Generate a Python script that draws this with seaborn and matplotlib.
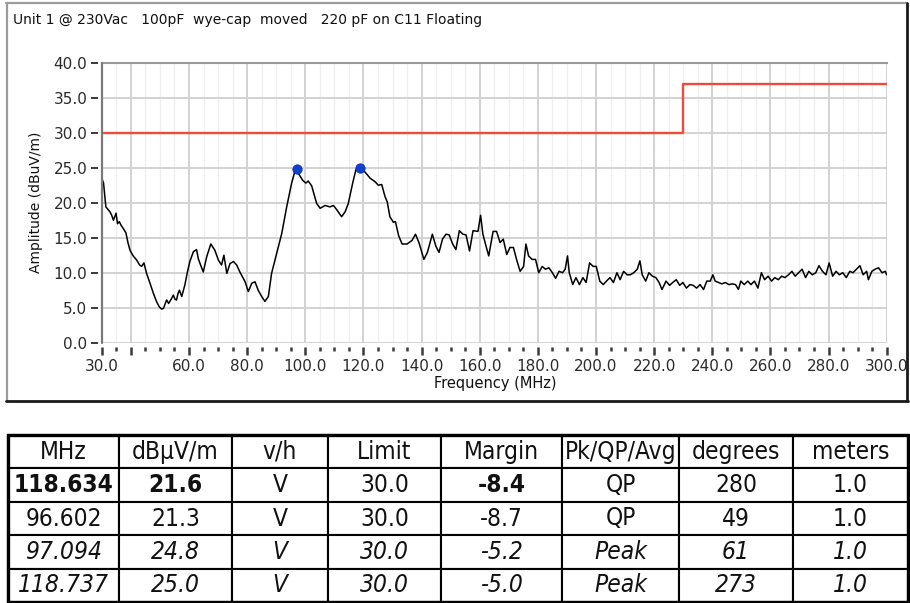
import matplotlib
matplotlib.use("Agg")
import matplotlib.pyplot as plt
from matplotlib import font_manager as fm
from matplotlib.font_manager import FontProperties
from matplotlib.lines import Line2D
from matplotlib.patches import Rectangle
from matplotlib.textpath import TextToPath
from matplotlib.ticker import MultipleLocator
import pandas as pd
import seaborn as sns

# ---------------------------------------------------------------- data
title_text = "Unit 1 @ 230Vac   100pF  wye-cap  moved   220 pF on C11 Floating"

# measured emission trace (MHz, dBuV/m)
freq_mhz = [
    30.0, 30.6, 31.4, 32.2, 32.8, 33.4, 34.0, 34.9, 35.4, 36.0,
    36.6, 37.4, 38.3, 39.0, 39.7, 40.8, 42.0, 43.0, 43.7, 44.5,
    45.4, 46.5, 47.7, 48.8, 49.8, 50.6, 51.2, 52.3, 53.0, 53.4,
    54.0, 54.6, 55.2, 55.7, 56.2, 56.7, 57.5, 58.6, 59.5, 60.3,
    61.5, 62.6, 63.2, 63.8, 64.9, 66.1, 67.5, 68.9, 70.1, 71.2,
    72.0, 73.0, 74.1, 75.3, 76.4, 77.5, 79.3, 80.4, 81.6, 82.7,
    83.8, 85.0, 86.1, 87.3, 88.4, 90.2, 91.9, 93.6, 95.3, 96.5,
    97.1, 97.6, 99.1, 100.2, 101.0, 102.2, 103.9, 105.1, 106.8, 108.5,
    109.7, 110.8, 112.5, 113.7, 114.8, 116.3, 117.4, 118.7, 120.5, 122.3,
    124.0, 125.1, 126.3, 127.4, 128.2, 129.1, 130.3, 131.0, 132.1, 133.3,
    135.0, 136.7, 137.9, 139.1, 140.8, 142.0, 143.7, 144.9, 146.0, 147.2,
    148.4, 149.5, 150.7, 151.8, 153.0, 154.2, 155.3, 156.5, 157.7, 159.4,
    160.3, 161.1, 162.3, 163.1, 164.6, 165.8, 167.0, 168.1, 169.3, 170.4,
    171.6, 172.8, 173.9, 175.1, 175.9, 176.8, 178.0, 179.2, 180.3, 181.5,
    182.6, 183.8, 185.0, 186.1, 187.3, 188.5, 189.4, 190.2, 190.8, 192.0,
    193.1, 194.3, 195.5, 196.6, 197.8, 199.0, 200.1, 201.3, 202.5, 203.6,
    204.8, 206.0, 207.2, 208.3, 209.5, 210.7, 211.8, 213.0, 214.2, 215.1,
    215.9, 217.1, 218.2, 219.4, 220.6, 221.7, 222.7, 224.1, 225.3, 226.4,
    227.6, 228.8, 229.9, 231.1, 232.3, 233.4, 234.6, 235.8, 237.0, 238.1,
    239.3, 240.2, 241.0, 242.2, 243.3, 244.5, 245.7, 246.9, 248.0, 249.0,
    249.8, 251.0, 252.2, 253.3, 254.5, 255.7, 256.9, 258.0, 259.2, 260.4,
    261.5, 262.7, 263.9, 265.0, 266.2, 267.4, 268.5, 269.7, 270.9, 272.1,
    273.2, 274.4, 275.6, 276.7, 277.9, 279.1, 280.2, 281.4, 282.6, 283.7,
    284.9, 286.1, 287.3, 288.4, 289.6, 290.8, 291.9, 293.1, 293.7, 294.9,
    296.0, 297.2, 298.4, 299.5, 300.0,
]
level_dbuv = [
    23.5, 22.8, 19.4, 19.0, 18.7, 18.2, 17.5, 18.5, 17.0, 17.3,
    16.8, 16.3, 15.7, 14.3, 13.2, 12.4, 11.8, 11.1, 10.9, 11.4,
    9.9, 8.6, 7.1, 5.9, 5.1, 4.8, 4.9, 6.1, 5.6, 5.9,
    6.3, 6.8, 6.2, 6.1, 7.0, 7.5, 6.6, 8.3, 10.2, 11.6,
    13.0, 13.3, 12.0, 11.3, 10.1, 12.3, 14.1, 13.2, 11.8, 11.1,
    12.5, 9.9, 11.3, 11.6, 11.1, 10.1, 8.7, 7.3, 8.5, 8.7,
    7.5, 6.6, 5.9, 6.6, 9.9, 12.8, 15.6, 19.4, 22.8, 24.6,
    24.8, 24.2, 23.2, 22.8, 23.1, 22.4, 19.9, 19.2, 19.6, 19.4,
    19.6, 19.0, 18.0, 18.7, 19.9, 22.8, 24.7, 25.0, 24.4, 23.5,
    23.0, 22.5, 22.6, 20.9, 20.1, 18.0, 17.2, 17.3, 15.3, 14.1,
    14.1, 14.6, 15.5, 14.3, 11.9, 12.9, 15.5, 13.8, 12.9, 14.8,
    15.5, 15.4, 14.1, 13.3, 16.0, 15.5, 15.4, 13.1, 16.0, 15.9,
    18.2, 15.5, 13.6, 12.4, 15.9, 15.9, 14.3, 14.8, 12.6, 13.6,
    13.6, 11.7, 10.2, 10.9, 14.1, 12.4, 11.9, 11.9, 10.0, 10.9,
    10.5, 10.7, 10.0, 9.2, 10.2, 10.0, 10.5, 12.4, 10.0, 8.3,
    9.3, 8.3, 9.3, 8.6, 11.4, 10.9, 10.9, 8.8, 8.3, 8.8,
    9.3, 8.6, 10.0, 9.0, 10.2, 9.7, 9.7, 10.0, 10.5, 11.7,
    9.7, 8.8, 10.0, 9.5, 9.3, 8.6, 7.6, 8.8, 8.2, 8.6,
    9.0, 8.2, 8.6, 7.8, 8.3, 8.2, 7.8, 8.3, 7.6, 8.8,
    8.8, 9.7, 8.8, 8.6, 8.4, 8.6, 8.3, 8.4, 8.3, 7.6,
    8.8, 8.3, 8.8, 8.3, 8.8, 7.8, 10.0, 9.0, 9.5, 8.8,
    9.3, 9.0, 9.5, 9.3, 9.7, 10.2, 9.5, 10.0, 10.5, 9.3,
    10.2, 9.7, 10.0, 11.0, 10.2, 9.7, 11.4, 9.5, 10.2, 9.7,
    10.0, 9.3, 10.2, 10.0, 10.5, 11.0, 9.7, 10.2, 9.0, 10.2,
    10.5, 10.7, 10.0, 10.2, 9.7,
]

# class limit (step at 230 MHz)
limit_freq = [30.0, 230.0, 300.0]
limit_level = [30.0, 37.0, 37.0]

# axis ticks
x_tick_values = [30, 40, 60, 80, 100, 120, 140, 160, 180, 200, 220, 240, 260, 280, 300]
x_tick_labels = ["30.0", "", "60.0", "80.0", "100.0", "120.0", "140.0", "160.0",
                 "180.0", "200.0", "220.0", "240.0", "260.0", "280.0", "300.0"]
y_tick_values = [0, 5, 10, 15, 20, 25, 30, 35, 40]
y_tick_labels = ["0.0", "5.0", "10.0", "15.0", "20.0", "25.0", "30.0", "35.0", "40.0"]

# final measurement table
table_header = ["MHz", "dB\u03bcV/m", "v/h", "Limit", "Margin", "Pk/QP/Avg", "degrees", "meters"]
meas_freq = [118.634, 96.602, 97.094, 118.737]
meas_level = [21.6, 21.3, 24.8, 25.0]
meas_pol = ["V", "V", "V", "V"]
meas_limit = [30.0, 30.0, 30.0, 30.0]
meas_margin = [-8.4, -8.7, -5.2, -5.0]
meas_detector = ["QP", "QP", "Peak", "Peak"]
meas_azimuth = [280, 49, 61, 273]
meas_height = [1.0, 1.0, 1.0, 1.0]

# ---------------------------------------------------------------- figure
sns.set_theme(style="white")
plt.rcParams["font.family"] = ["DejaVu Sans"]

W, H = 910, 603
fig = plt.figure(figsize=(W / 100, H / 100), dpi=100)
fig.patch.set_facecolor("white")


def fx(px):
    return px / W


def fy(py):
    return 1 - py / H


# chart panel frame
fig.add_artist(Line2D([fx(6), fx(907)], [fy(2.5), fy(2.5)], color="#9c9c9c", lw=1.6))
fig.add_artist(Line2D([fx(6.5), fx(6.5)], [fy(2.5), fy(401)], color="#9c9c9c", lw=1.6))
fig.add_artist(Line2D([fx(6), fx(908)], [fy(401), fy(401)], color="#1a1a1a", lw=2.0))
fig.add_artist(Line2D([fx(907), fx(907)], [fy(2.5), fy(401)], color="#1a1a1a", lw=2.0))

fig.text(fx(13), fy(20), title_text, ha="left", va="center", fontsize=10, color="#111111")

# plot area
ax_l, ax_r, ax_t, ax_b = 101.8, 886.7, 62.7, 342.7
ax = fig.add_axes([fx(ax_l), fy(ax_b), (ax_r - ax_l) / W, (ax_b - ax_t) / H])
ax.set_facecolor("white")

spectrum = pd.DataFrame({"freq": freq_mhz, "level": level_dbuv})
limit = pd.DataFrame({"freq": limit_freq, "level": limit_level})
is_peak = [d == "Peak" for d in meas_detector]
peaks = pd.DataFrame({
    "freq": [f for f, p in zip(meas_freq, is_peak) if p],
    "level": [v for v, p in zip(meas_level, is_peak) if p],
})

sns.lineplot(data=limit, x="freq", y="level", ax=ax, color="#f04b3a", lw=1.7,
             drawstyle="steps-post", estimator=None, sort=False, zorder=3)
sns.lineplot(data=spectrum, x="freq", y="level", ax=ax, color="black", lw=1.1,
             estimator=None, sort=False, zorder=4)
sns.scatterplot(data=peaks, x="freq", y="level", ax=ax, color="#1040d0", s=45,
                edgecolor="#0a2fb0", linewidth=0.6, zorder=5)

ax.set_xlim(30, 300)
ax.set_ylim(0, 40)

ax.set_xticks(x_tick_values, labels=x_tick_labels)
ax.xaxis.set_minor_locator(MultipleLocator(5))
ax.set_yticks(y_tick_values, labels=y_tick_labels)

ax.grid(which="major", color="#d2d2d2", lw=1.4, zorder=0)
ax.grid(which="minor", axis="x", color="#efefef", lw=0.9, zorder=0)
ax.set_axisbelow(True)

for side in ("left", "bottom"):
    ax.spines[side].set_position(("outward", 3))
    ax.spines[side].set_visible(False)
ax.spines["right"].set_visible(False)
ax.spines["top"].set_visible(True)
ax.spines["top"].set_color("#9a9a9a")
ax.spines["top"].set_linewidth(1.5)
ax.axvline(30, color="#7a7a7a", lw=1.6, zorder=6, clip_on=False)

ax.tick_params(axis="y", which="major", left=True, length=5, width=1.4,
               color="#3a3a3a", pad=2.5, labelsize=11, labelcolor="#2a2a2a")
ax.tick_params(axis="x", which="major", bottom=True, length=6, width=1.8,
               color="#3a3a3a", pad=3, labelsize=11, labelcolor="#2a2a2a")
ax.tick_params(axis="x", which="minor", bottom=True, length=3, width=1.8,
               color="#3a3a3a")

ax.set_xlabel("Frequency (MHz)", fontsize=10.5, color="#111111")
ax.set_ylabel("Amplitude (dBuV/m)", fontsize=10, color="#111111")
ax.xaxis.set_label_coords((495 - ax_l) / (ax_r - ax_l), -(376 - ax_b) / (ax_b - ax_t))
ax.yaxis.set_label_coords((43 - ax_l) / (ax_r - ax_l), 0.5)


# ---------------------------------------------------------------- table
def narrow_table_font():
    """Prefer a narrow sans face for the table; fall back to a plain sans."""
    candidates = [
        ("Liberation Sans Narrow", "normal"),
        ("DejaVu Sans", "condensed"),
        ("Roboto Condensed", "normal"),
        ("Open Sans Condensed", "normal"),
        ("Liberation Sans", "normal"),
    ]
    for family, stretch in candidates:
        fp = FontProperties(family=family, stretch=stretch)
        try:
            path = fm.findfont(fp, fallback_to_default=False)
        except ValueError:
            continue
        if stretch == "condensed" and "ondensed" not in path:
            continue
        return fp
    return FontProperties(family="DejaVu Sans")


table_fp = narrow_table_font()
# size the face so the widest header fits its cell the way it is set in the sheet
probe = table_fp.copy()
probe.set_size(10)
w10, _, _ = TextToPath().get_text_width_height_descent("Pk/QP/Avg", probe, ismath=False)
table_size = min(20.0, 10 * (112 * 0.72) / w10)

col_px = [111, 113, 96, 113, 121, 117, 114, 115]
tax = fig.add_axes([fx(8), fy(602), 900 / W, 167 / H])
tax.axis("off")

cell_text = []
for i in range(len(meas_freq)):
    cell_text.append([
        f"{meas_freq[i]:.3f}", f"{meas_level[i]:.1f}", meas_pol[i],
        f"{meas_limit[i]:.1f}", f"{meas_margin[i]:.1f}", meas_detector[i],
        f"{meas_azimuth[i]:d}", f"{meas_height[i]:.1f}",
    ])

tbl = tax.table(cellText=cell_text, colLabels=table_header,
                colWidths=[w / sum(col_px) for w in col_px],
                cellLoc="center", bbox=[0, 0, 1, 1])
tbl.auto_set_font_size(False)

for (r, c), cell in tbl.get_celld().items():
    cell.set_edgecolor("black")
    cell.set_linewidth(1.5)
    cell.set_facecolor("white")
    txt = cell.get_text()
    txt.set_fontproperties(table_fp)
    txt.set_fontsize(table_size)
    txt.set_color("#111111")
    if r == 1 and c in (0, 1, 4):
        txt.set_fontweight("bold")
    if r >= 3:
        txt.set_fontstyle("italic")

tax.add_patch(Rectangle((0, 0), 1, 1, transform=tax.transAxes, fill=False,
                        lw=2.4, edgecolor="black", clip_on=False))

fig.savefig("out.png", dpi=100, facecolor="white")
